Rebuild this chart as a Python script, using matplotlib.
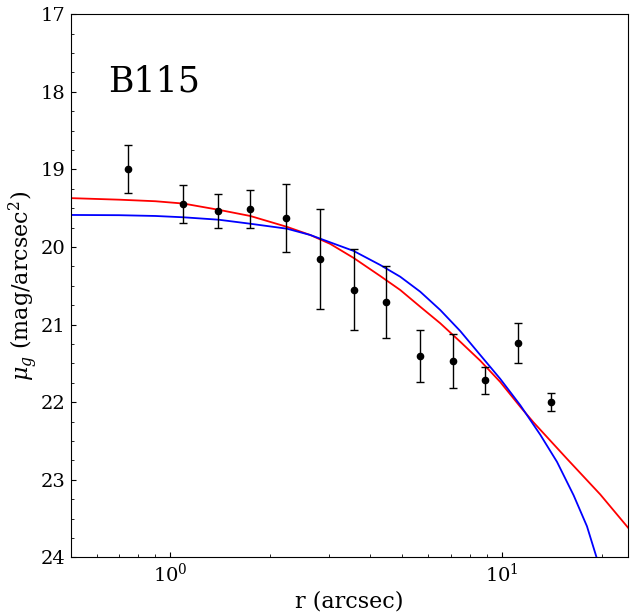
import numpy as np
import matplotlib
matplotlib.use("Agg")
import matplotlib.pyplot as plt
from matplotlib.ticker import MultipleLocator

plt.rcParams['font.family'] = 'DejaVu Serif'
plt.rcParams['mathtext.fontset'] = 'dejavuserif'

# observed profile of B115
r_obs = [0.745, 1.092, 1.393, 1.740, 2.234, 2.829, 3.583, 4.477, 5.667, 7.129, 8.905, 11.20, 14.09]
mu_obs = [19.00, 19.44, 19.54, 19.51, 19.63, 20.15, 20.55, 20.71, 21.41, 21.47, 21.72, 21.24, 22.00]
mu_err = [0.31, 0.245, 0.22, 0.25, 0.44, 0.645, 0.52, 0.46, 0.335, 0.35, 0.175, 0.26, 0.117]

# red model curve
r_red = [0.5, 0.7, 0.9, 1.094, 1.396, 1.740, 2.245, 2.640, 3.033, 3.566, 4.294, 4.933,
         5.668, 6.514, 7.484, 8.600, 9.883, 11.36, 12.45, 15.71, 19.80, 24.10]
mu_red = [19.37, 19.39, 19.41, 19.44, 19.52, 19.60, 19.74, 19.845, 19.96, 20.14, 20.374, 20.554,
          20.77, 20.983, 21.221, 21.465, 21.74, 22.06, 22.26, 22.73, 23.19, 23.626]

# blue model curve
r_blue = [0.5, 0.7, 0.9, 1.094, 1.396, 1.740, 2.245, 2.640, 3.033, 3.566, 4.294, 4.933,
          5.668, 6.514, 7.484, 8.600, 9.883, 11.36, 13.05, 14.66, 16.45, 18.05, 19.26]
mu_blue = [19.587, 19.59, 19.60, 19.617, 19.648, 19.70, 19.764, 19.845, 19.94, 20.05, 20.232, 20.383,
           20.576, 20.812, 21.083, 21.392, 21.70, 22.04, 22.42, 22.77, 23.20, 23.60, 23.99]

fig = plt.figure(figsize=(6.34, 6.15), dpi=100)
ax = fig.add_axes([0.1115, 0.0938, 0.879, 0.883])

ax.plot(r_red, mu_red, color='red', lw=1.3)
ax.plot(r_blue, mu_blue, color='blue', lw=1.3)
ax.errorbar(r_obs, mu_obs, yerr=mu_err, fmt='o', color='black', ms=4.5,
            capsize=3, elinewidth=1, capthick=1)

ax.set_xscale('log')
ax.set_xlim(0.5, 24)
ax.set_ylim(24, 17)
ax.yaxis.set_minor_locator(MultipleLocator(0.25))
ax.tick_params(which='both', direction='in', labelsize=14)
ax.tick_params(which='major', length=3.5)
ax.tick_params(which='minor', length=2)

ax.set_xlabel('r (arcsec)', fontsize=16)
ax.set_ylabel(r'$\mu_g$ (mag/arcsec$^2$)', fontsize=16, labelpad=1)

ax.text(0.067, 0.857, 'B115', transform=ax.transAxes, fontsize=25, va='baseline')

fig.savefig('out.png', dpi=100)
